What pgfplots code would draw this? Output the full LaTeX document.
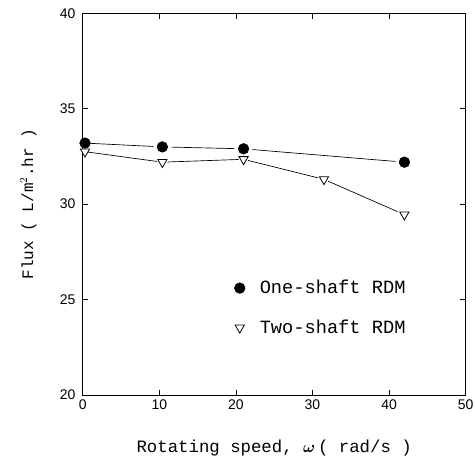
\documentclass[border=0pt]{standalone}
\usepackage{amsmath,amssymb,bm}
\usepackage{fontspec}
\setmainfont{Liberation Serif}
\newfontfamily\tickfont{Liberation Sans}
\newfontfamily\labfont{Liberation Mono}
\usepackage{pgfplots}
\pgfplotsset{compat=1.18}

\begin{document}
\begin{tikzpicture}
\begin{axis}[
  scale only axis,
  width=287pt, height=286pt,
  xmin=0, xmax=50, ymin=20, ymax=40,
  xtick={0,10,...,50}, ytick={20,25,...,40},
  tick align=inside, major tick length=4pt,
  axis line style={line width=0.6pt},
  tick style={line width=0.5pt, black},
  /pgf/number format/assume math mode=true,
  ticklabel style={font=\tickfont\fontsize{10.5}{12}\selectfont},
  yticklabel style={xshift=-2pt},
  xlabel={\labfont\fontsize{13}{15}\selectfont Rotating speed, $\bm{\omega}$\,( rad/s )},
  ylabel={\labfont\fontsize{12}{14}\selectfont Flux ( L/m$^{2}$.hr )},
  xlabel style={at={(axis description cs:0.5,-0.14)}, anchor=center},
  ylabel style={at={(axis description cs:-0.142,0.5)}, anchor=center},
  legend style={draw=none, fill=none, at={(0.385,0.315)}, anchor=north west,
    font=\labfont\fontsize{14}{16}\selectfont, row sep=14pt},
  legend cell align=left,
]
\coordinate (ll) at (rel axis cs:0,0);
\coordinate (ur) at (rel axis cs:1,1);
% lines
\addplot[black, line width=0.5pt, forget plot] coordinates {(0.3,33.2) (10.4,33.0) (21,32.9) (42,32.2)};
\addplot[black, line width=0.5pt, forget plot] coordinates {(0.3,32.75) (10.4,32.2) (21,32.35) (31.5,31.3) (42,29.45)};
% white halos to leave gaps round markers
\addplot[only marks, mark=*, mark size=6.5pt, draw=white, fill=white, forget plot] coordinates {(10.4,33.0) (21,32.9) (42,32.2)};
\addplot[only marks, mark=triangle*, mark size=6pt, mark options={rotate=180}, draw=white, fill=white, forget plot] coordinates {(10.4,32.2) (21,32.35) (31.5,31.3) (42,29.45)};
% markers
\addplot[only marks, mark=*, mark size=4pt, black] coordinates {(0.3,33.2) (10.4,33.0) (21,32.9) (42,32.2)};
\addlegendentry{\hspace*{9pt}One-shaft RDM}
\addplot[only marks, mark=triangle*, mark size=4pt, mark options={rotate=180, fill=white, draw=black, line width=0.6pt}] coordinates {(0.3,32.75) (10.4,32.2) (21,32.35) (31.5,31.3) (42,29.45)};
\addlegendentry{\hspace*{9pt}Two-shaft RDM}
\end{axis}
\pgfresetboundingbox
\path[use as bounding box] ([shift={(-62pt,-47pt)}]ll) rectangle ([shift={(7pt,10pt)}]ur);
\end{tikzpicture}
\end{document}
